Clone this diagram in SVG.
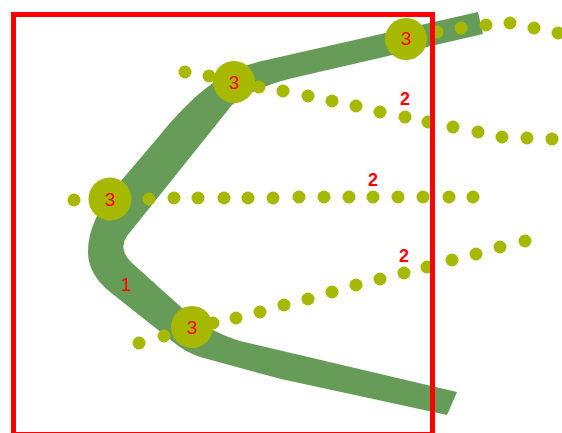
<svg xmlns="http://www.w3.org/2000/svg" width="562" height="433" viewBox="0 0 562 433">
<style>
.band{fill:#669c57}
.d{fill:#a6b900}
.big{fill:#a6b900}
.t3{font-family:"Liberation Sans",Arial,sans-serif;font-size:19px;fill:#ff0000;text-anchor:middle}
.t2{font-family:"Liberation Sans",Arial,sans-serif;font-size:18px;font-weight:bold;fill:#ff0000;text-anchor:middle}
.frame{fill:none;stroke:#ff0000;stroke-width:5}
</style>
<rect width="562" height="433" fill="#ffffff"/>
<g id="connectors">
<path id="band" class="band" d="M478,12 L483,34 L293,78 Q255,87 232,105 L127,236 Q118,249 131,262 L182,308 Q205,330 240,341 L457,392 L447,415 L281,379 L200,357 Q185,352 172,341 L110,292 Q88,274 88,252 C88,230 98,210 115,188 L160,135 C185,105 215,72 262,61 Z"/>
<g id="row1">
<circle class="d" cx="437" cy="32" r="6.5"/><circle class="d" cx="461" cy="28" r="6.5"/><circle class="d" cx="486" cy="25" r="6.5"/><circle class="d" cx="510" cy="23" r="6.5"/><circle class="d" cx="534" cy="28" r="6.5"/><circle class="d" cx="558" cy="33" r="6.5"/>
</g>
<g id="row2">
<circle class="d" cx="185" cy="72" r="6.5"/><circle class="d" cx="209" cy="76" r="6.5"/><circle class="d" cx="259" cy="87" r="6.5"/><circle class="d" cx="283" cy="91" r="6.5"/><circle class="d" cx="308" cy="96" r="6.5"/><circle class="d" cx="332" cy="101" r="6.5"/><circle class="d" cx="356" cy="106" r="6.5"/><circle class="d" cx="380" cy="112" r="6.5"/><circle class="d" cx="405" cy="117" r="6.5"/><circle class="d" cx="428" cy="122" r="6.5"/><circle class="d" cx="453" cy="127" r="6.5"/><circle class="d" cx="478" cy="132" r="6.5"/><circle class="d" cx="502" cy="137" r="6.5"/><circle class="d" cx="527" cy="138" r="6.5"/><circle class="d" cx="552" cy="139" r="6.5"/>
</g>
<g id="row3">
<circle class="d" cx="74" cy="200" r="6.5"/><circle class="d" cx="149" cy="199" r="6.5"/><circle class="d" cx="174" cy="198" r="6.5"/><circle class="d" cx="198" cy="198" r="6.5"/><circle class="d" cx="224" cy="198" r="6.5"/><circle class="d" cx="248" cy="198" r="6.5"/><circle class="d" cx="273" cy="198" r="6.5"/><circle class="d" cx="299" cy="197" r="6.5"/><circle class="d" cx="324" cy="197" r="6.5"/><circle class="d" cx="349" cy="197" r="6.5"/><circle class="d" cx="373" cy="197" r="6.5"/><circle class="d" cx="398" cy="197" r="6.5"/><circle class="d" cx="423" cy="197" r="6.5"/><circle class="d" cx="449" cy="197" r="6.5"/><circle class="d" cx="473" cy="197" r="6.5"/>
</g>
<g id="row4">
<circle class="d" cx="139" cy="343" r="6.5"/><circle class="d" cx="164" cy="336" r="6.5"/><circle class="d" cx="213" cy="323" r="6.5"/><circle class="d" cx="236" cy="318" r="6.5"/><circle class="d" cx="260" cy="312" r="6.5"/><circle class="d" cx="284" cy="305" r="6.5"/><circle class="d" cx="308" cy="299" r="6.5"/><circle class="d" cx="332" cy="292" r="6.5"/><circle class="d" cx="356" cy="285" r="6.5"/><circle class="d" cx="380" cy="279" r="6.5"/><circle class="d" cx="404" cy="273" r="6.5"/><circle class="d" cx="427" cy="267" r="6.5"/><circle class="d" cx="452" cy="260" r="6.5"/><circle class="d" cx="476" cy="254" r="6.5"/><circle class="d" cx="500" cy="247" r="6.5"/><circle class="d" cx="525" cy="241" r="6.5"/>
</g>
<text class="t2" x="405" y="105">2</text>
<text class="t2" x="373" y="186">2</text>
<text class="t2" x="404" y="262">2</text>
<text class="t3" x="126" y="291">1</text>
</g>
<g id="node1"><circle class="big" cx="406" cy="39" r="21"/><text class="t3" x="406" y="45">3</text></g>
<g id="node2"><circle class="big" cx="234" cy="82" r="21"/><text class="t3" x="234" y="89">3</text></g>
<g id="node3"><circle class="big" cx="110" cy="199" r="21.5"/><text class="t3" x="110" y="206">3</text></g>
<g id="node4"><circle class="big" cx="192" cy="327" r="21"/><text class="t3" x="192" y="334">3</text></g>
<rect id="frame" class="frame" x="13.5" y="14.5" width="419" height="420"/>
</svg>
